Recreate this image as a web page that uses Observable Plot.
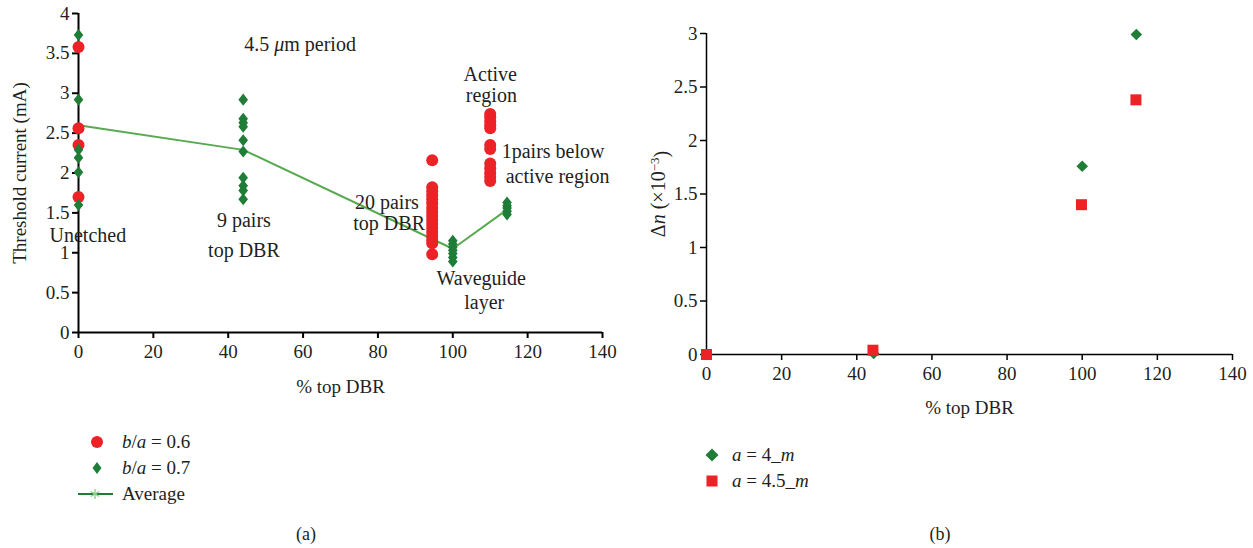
<!DOCTYPE html>
<html><head><meta charset="utf-8">
<script src="https://cdn.jsdelivr.net/npm/d3@7"></script>
<script src="https://cdn.jsdelivr.net/npm/@observablehq/plot@0.6"></script>
<style>
body{margin:0;background:#fff;font-family:"Liberation Serif",serif;color:#231f20;}
#wrap{position:relative;width:1253px;height:548px;overflow:hidden;background:#fff;}
.panel{position:absolute;top:0;}
.leg{position:absolute;font-size:19px;line-height:1;white-space:nowrap;color:#231f20;}
.leg svg{position:absolute;overflow:visible;}
.cap{position:absolute;font-size:18px;color:#231f20;transform:translate(-50%,-50%);}
</style></head><body><div id="wrap"></div>
<script>
// ---------- Panel (a): threshold current vs % top DBR ----------
const pctTicks = [0, 20, 40, 60, 80, 100, 120, 140];
const currentTicks = [0, 0.5, 1, 1.5, 2, 2.5, 3, 3.5, 4];

// b/a = 0.6 (red circles)
const pct06 = [0, 94.5, 110];
const current06 = [
  [3.58, 2.56, 2.35, 1.70],
  [2.16, 1.82, 1.77, 1.72, 1.67, 1.62, 1.56, 1.51, 1.46, 1.41, 1.36, 1.31, 1.26, 1.21, 1.16, 1.12, 0.98],
  [2.74, 2.70, 2.65, 2.60, 2.56, 2.35, 2.30, 2.12, 2.06, 2.00, 1.95, 1.90]
];
// b/a = 0.7 (green diamonds)
const pct07 = [0, 44, 100, 114.5];
const current07 = [
  [3.73, 2.92, 2.29, 2.19, 2.01, 1.60],
  [2.92, 2.68, 2.63, 2.58, 2.41, 2.27, 1.94, 1.84, 1.78, 1.67],
  [1.15, 1.11, 1.07, 1.03, 0.99, 0.94, 0.89],
  [1.63, 1.59, 1.56, 1.52, 1.48]
];
// Average line
const avgPct = [0, 44, 100, 114.5];
const avgCurrent = [2.60, 2.29, 1.05, 1.54];

// Annotations (one entry per text line)
const noteText = ["4.5 μm period", "Unetched", "9 pairs", "top DBR", "20 pairs", "top DBR",
  "Waveguide", "layer", "Active", "region", "1pairs below", "active region"];
const notePct = [59.2, 2.5, 44.2, 44.2, 82.4, 83.0, 107.6, 108.4, 110.0, 110.3, 126.8, 128.0];
const noteCurrent = [3.61, 1.21, 1.40, 1.03, 1.63, 1.37, 0.68, 0.38, 3.23, 2.97, 2.27, 1.95];

// ---------- Panel (b): Δn vs % top DBR ----------
const dnTicks = [0, 0.5, 1, 1.5, 2, 2.5, 3];
const pctA4 = [0, 44.5, 100, 114.4];
const dnA4 = [0, 0.01, 1.76, 2.99];
const pctA45 = [0, 44.3, 99.8, 114.3];
const dnA45 = [0, 0.04, 1.40, 2.38];

// ---------- styling ----------
const RED = "#ec2227";
const GREEN = "#1f7d37";
const LINEGREEN = "#57aa4f";
const INK = "#231f20";
const FONT = "Liberation Serif";

// slightly tall rhombus (width = 0.8 × height)
const tallDiamond = {
  draw(context, size) {
    const h = Math.sqrt(size / 0.4) / 2;
    const w = h * 0.8;
    context.moveTo(0, -h);
    context.lineTo(w, 0);
    context.lineTo(0, h);
    context.lineTo(-w, 0);
    context.closePath();
  }
};

const rows06 = pct06.flatMap((p, i) => current06[i].map(v => ({pct: p, value: v})));
const rows07 = pct07.flatMap((p, i) => current07[i].map(v => ({pct: p, value: v})));
const avgRows = avgPct.map((p, i) => ({pct: p, value: avgCurrent[i]}));
const notes = noteText.map((t, i) => ({text: t, pct: notePct[i], value: noteCurrent[i]}));
const rowsA4 = pctA4.map((p, i) => ({pct: p, dn: dnA4[i]}));
const rowsA45 = pctA45.map((p, i) => ({pct: p, dn: dnA45[i]}));

const fmt = d => String(d);
const wrap = document.getElementById("wrap");

const left = Plot.plot({
  width: 640, height: 405,
  marginLeft: 78, marginRight: 38, marginTop: 13, marginBottom: 73,
  style: {fontFamily: FONT, fontSize: "19px", color: INK, background: "transparent", overflow: "visible"},
  x: {domain: [0, 140]},
  y: {domain: [0, 4]},
  marks: [
    Plot.axisX({ticks: pctTicks, tickFormat: fmt, tickSize: 6, strokeWidth: 2, stroke: "#000", tickPadding: 6,
      label: "% top DBR", labelAnchor: "center", labelArrow: "none", labelOffset: 60}),
    Plot.axisY({ticks: currentTicks, tickFormat: fmt, tickSize: 6, strokeWidth: 2, stroke: "#000", tickPadding: 3,
      label: "Threshold current (mA)", labelAnchor: "center", labelArrow: "none", labelOffset: 66}),
    Plot.ruleX([0], {stroke: "#000", strokeWidth: 2}),
    Plot.ruleY([0], {stroke: "#000", strokeWidth: 2}),
    Plot.line(avgRows, {x: "pct", y: "value", stroke: LINEGREEN, strokeWidth: 2}),
    Plot.dot(rows06, {x: "pct", y: "value", r: 6, fill: RED}),
    Plot.dot(rows07, {x: "pct", y: "value", symbol: tallDiamond, r: 4.3, fill: GREEN}),
    Plot.text(notes, {x: "pct", y: "value", text: "text", fontSize: 20, fill: INK})
  ]
});
left.classList.add("panel");
left.style.left = "0px";
wrap.appendChild(left);

const right = Plot.plot({
  width: 623, height: 430,
  marginLeft: 76, marginRight: 21, marginTop: 33, marginBottom: 76,
  style: {fontFamily: FONT, fontSize: "19px", color: INK, background: "transparent", overflow: "visible"},
  x: {domain: [0, 140]},
  y: {domain: [0, 3]},
  marks: [
    Plot.axisX({ticks: pctTicks, tickFormat: fmt, tickSize: 6, strokeWidth: 1.5, stroke: "#000", tickPadding: 6,
      label: "% top DBR", labelAnchor: "center", labelArrow: "none", labelOffset: 59}),
    Plot.axisY({ticks: dnTicks, tickFormat: fmt, tickSize: 6, strokeWidth: 1.5, stroke: "#000", tickPadding: 3,
      label: "Δn (×10−3)", labelAnchor: "center", labelArrow: "none", labelOffset: 56}),
    Plot.ruleX([0], {stroke: "#000", strokeWidth: 1.5}),
    Plot.ruleY([0], {stroke: "#000", strokeWidth: 1.5}),
    Plot.dot(rowsA4, {x: "pct", y: "dn", symbol: "diamond2", r: 5.2, fill: GREEN}),
    Plot.dot(rowsA45, {x: "pct", y: "dn", symbol: "square", r: 6.2, fill: RED})
  ]
});
right.classList.add("panel");
right.style.left = "630px";
wrap.appendChild(right);

// rich text for a few labels
left.querySelectorAll("text").forEach(t => {
  if (t.textContent === "4.5 μm period") {
    t.innerHTML = '4.5 <tspan font-style="italic">μ</tspan>m period';
  }
});
right.querySelectorAll("text").forEach(t => {
  if (t.textContent === "Δn (×10−3)") {
    t.setAttribute("font-size", "20");
    t.innerHTML = 'Δ<tspan font-style="italic">n</tspan> (×10<tspan dy="-0.45em" font-size="13">−3</tspan><tspan dy="0.45em">)</tspan>';
  }
});

// legends
function legendItem(x, y, swatch, html) {
  const d = document.createElement("div");
  d.className = "leg";
  d.style.left = x + "px";
  d.style.top = (y - 10) + "px";
  d.innerHTML = html;
  wrap.appendChild(d);
  const s = document.createElementNS("http://www.w3.org/2000/svg", "svg");
  s.setAttribute("width", 40); s.setAttribute("height", 20);
  s.style.position = "absolute";
  s.style.left = (swatch.cx - 20) + "px";
  s.style.top = (y - 10) + "px";
  s.innerHTML = swatch.svg;
  wrap.appendChild(s);
}
legendItem(122, 442, {cx: 97, svg: `<circle cx="20" cy="10" r="6" fill="${RED}"/>`},
  '<i>b</i>/<i>a</i> = 0.6');
legendItem(122, 468, {cx: 97, svg: `<path d="M20,4 L24.5,10 L20,16 L15.5,10Z" fill="${GREEN}"/>`},
  '<i>b</i>/<i>a</i> = 0.7');
legendItem(122, 494, {cx: 95, svg: `<line x1="3" y1="10" x2="38" y2="10" stroke="${GREEN}" stroke-width="2"/>
  <g stroke="#8fd08a" stroke-width="1.4"><line x1="20" y1="5" x2="20" y2="15"/><line x1="15.7" y1="7.5" x2="24.3" y2="12.5"/><line x1="15.7" y1="12.5" x2="24.3" y2="7.5"/></g>`},
  'Average');
legendItem(732, 455, {cx: 712, svg: `<path d="M20,3.5 L26.5,10 L20,16.5 L13.5,10Z" fill="${GREEN}"/>`},
  '<i>a</i> = 4_<i>m</i>');
legendItem(732, 481, {cx: 712, svg: `<rect x="14.5" y="4.5" width="11" height="11" fill="${RED}"/>`},
  '<i>a</i> = 4.5_<i>m</i>');

// panel captions
for (const [t, x] of [["(a)", 306], ["(b)", 940]]) {
  const c = document.createElement("div");
  c.className = "cap";
  c.textContent = t;
  c.style.left = x + "px";
  c.style.top = "534px";
  wrap.appendChild(c);
}
</script></body></html>
